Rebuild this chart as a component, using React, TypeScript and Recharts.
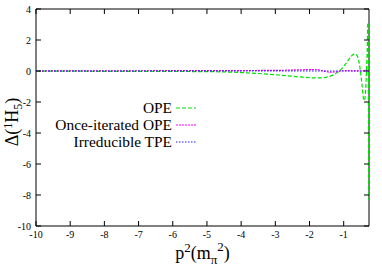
import React from "react";
import {
  LineChart,
  Line,
  XAxis,
  YAxis,
  ReferenceArea,
  Legend,
  Label,
} from "recharts";

// p^2 in units of m_pi^2
const opeX = [
  -10, -9, -8, -7, -6, -5, -4.5, -4, -3.5, -3, -2.5, -2.2, -2, -1.8, -1.6, -1.45,
  -1.3, -1.2, -1.1, -1.0, -0.9, -0.8, -0.72, -0.66, -0.6, -0.55, -0.5, -0.46,
  -0.42, -0.39, -0.36, -0.33, -0.31, -0.295, -0.285, -0.278, -0.272, -0.266,
];
const opeY = [
  -0.01, -0.01, -0.02, -0.02, -0.03, -0.04, -0.06, -0.1, -0.16, -0.24, -0.34, -0.4,
  -0.43, -0.45, -0.43, -0.37, -0.25, -0.12, 0.05, 0.3, 0.6, 0.9, 1.07, 1.1, 0.95,
  0.55, -0.2, -1.0, -1.8, -1.9, -1.3, 0.2, 1.6, 3.1, 3.0, -1.0, -5.0, -8.3,
];

const onceX = [
  -10, -8, -6, -5, -4, -3, -2.5, -2.2, -1.9, -1.7, -1.55, -1.4, -1.25, -1.1, -0.9,
  -0.7, -0.5, -0.4, -0.3, -0.26,
];
const onceY = [
  0.01, 0.01, 0.02, 0.02, 0.03, 0.04, 0.06, 0.08, 0.09, 0.06, -0.02, -0.08, -0.06,
  0, 0.02, 0.01, 0, 0.02, 0.05, 0.05,
];

const tpeX = [-10, -8, -6, -4, -2, -1, -0.5, -0.26];
const tpeY = [0, 0, 0, 0, 0, 0, 0, 0];

const xTicks = [-10, -9, -8, -7, -6, -5, -4, -3, -2, -1];
const yTicks = [-10, -8, -6, -4, -2, 0, 2, 4];

const seriesNames = ["OPE", "Once-iterated OPE", "Irreducible TPE"];
const seriesColors = ["#00e000", "#ff00ff", "#2222ff"];
const seriesDash = ["4 2", "2 1", "1.5 1.5"];

const toPoints = (xs: number[], ys: number[]) => xs.map((x, i) => ({ x, y: ys[i] }));

const FONT = "'Liberation Serif', 'Times New Roman', serif";
const PLOT_TOP = 9;
const PLOT_BOTTOM = 226;
const PLOT_LEFT = 36;
const PLOT_RIGHT = 369;

const XTick = (props: any) => {
  const { x, y, payload } = props;
  return (
    <g>
      <line x1={x} y1={PLOT_BOTTOM} x2={x} y2={PLOT_BOTTOM - 5} stroke="#000" />
      <line x1={x} y1={PLOT_TOP} x2={x} y2={PLOT_TOP + 5} stroke="#000" />
      <text x={x} y={y} dy="0.71em" textAnchor="middle" fontSize={10} fontFamily={FONT} fill="#000">
        {payload.value}
      </text>
    </g>
  );
};

const YTick = (props: any) => {
  const { x, y, payload } = props;
  return (
    <g>
      <line x1={PLOT_LEFT} y1={y} x2={PLOT_LEFT + 5} y2={y} stroke="#000" />
      <line x1={PLOT_RIGHT} y1={y} x2={PLOT_RIGHT - 5} y2={y} stroke="#000" />
      <text x={x} y={y} dy="0.35em" textAnchor="end" fontSize={10} fontFamily={FONT} fill="#000">
        {payload.value}
      </text>
    </g>
  );
};

const XLabel = (props: any) => {
  const vb = props.viewBox;
  const cx = vb.x + vb.width / 2;
  return (
    <text x={cx} y={259} textAnchor="middle" fontSize={18} fontFamily={FONT} fill="#000">
      p<tspan dy={-7} fontSize={13}>2</tspan>
      <tspan dy={7}>(m</tspan>
      <tspan dy={5} fontSize={13}>π</tspan>
      <tspan dy={-13} fontSize={13}>2</tspan>
      <tspan dy={8}>)</tspan>
    </text>
  );
};

const YLabel = () => (
  <text
    x={0}
    y={0}
    transform="translate(18, 122) rotate(-90)"
    textAnchor="middle"
    fontSize={18}
    fontFamily={FONT}
    fill="#000"
  >
    Δ(<tspan dy={-6} fontSize={12}>1</tspan>
    <tspan dy={6}>H</tspan>
    <tspan dy={4} fontSize={12}>5</tspan>
    <tspan dy={-4}>)</tspan>
  </text>
);

const LegendBox = () => (
  <svg width={200} height={60}>
    {seriesNames.map((name, i) => {
      const cy = 13 + i * 17;
      return (
        <g key={name}>
          <text x={172} y={cy} dy="0.35em" textAnchor="end" fontSize={15.4} fontFamily={FONT} fill="#000">
            {name}
          </text>
          <line
            x1={176}
            y1={cy}
            x2={196}
            y2={cy}
            stroke={seriesColors[i]}
            strokeWidth={1.2}
            strokeDasharray={seriesDash[i]}
          />
        </g>
      );
    })}
  </svg>
);

export default function App() {
  const series = [
    toPoints(opeX, opeY),
    toPoints(onceX, onceY),
    toPoints(tpeX, tpeY),
  ];

  return (
    <div style={{ position: "absolute", left: 0, top: 0, background: "#fff" }}>
      <LineChart
        width={382}
        height={267}
        margin={{ top: PLOT_TOP, right: 382 - PLOT_RIGHT, bottom: 0, left: 0 }}
      >
        <XAxis
          type="number"
          dataKey="x"
          domain={[-10, -0.26]}
          ticks={xTicks}
          allowDataOverflow
          height={267 - PLOT_BOTTOM}
          tickSize={0}
          tickMargin={5}
          tickLine={false}
          axisLine={false}
          tick={<XTick />}
        >
          <Label content={<XLabel />} />
        </XAxis>
        <YAxis
          type="number"
          dataKey="y"
          domain={[-10, 4]}
          ticks={yTicks}
          allowDataOverflow
          width={PLOT_LEFT}
          tickSize={0}
          tickMargin={5}
          tickLine={false}
          axisLine={false}
          tick={<YTick />}
        >
          <Label content={<YLabel />} />
        </YAxis>
        <ReferenceArea
          x1={-10}
          x2={-0.26}
          y1={-10}
          y2={4}
          fill="none"
          stroke="#000"
          strokeWidth={1}
          ifOverflow="visible"
        />
        {series.map((pts, i) => (
          <Line
            key={seriesNames[i]}
            data={pts}
            dataKey="y"
            name={seriesNames[i]}
            type="monotone"
            stroke={seriesColors[i]}
            strokeWidth={1.2}
            strokeDasharray={seriesDash[i]}
            dot={false}
            isAnimationActive={false}
          />
        ))}
        <Legend
          layout="vertical"
          align="center"
          verticalAlign="middle"
          content={<LegendBox />}
          wrapperStyle={{ left: 0, top: 95, width: 200, height: 60 }}
        />
      </LineChart>
    </div>
  );
}
